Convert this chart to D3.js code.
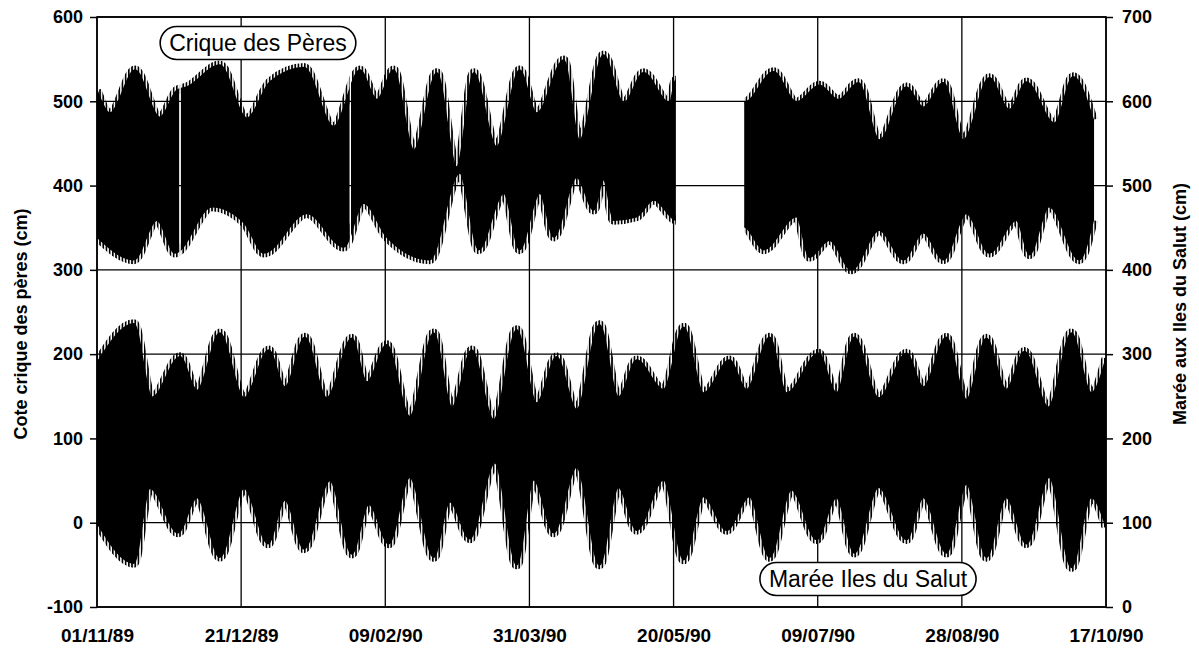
<!DOCTYPE html>
<html>
<head>
<meta charset="utf-8">
<script src="https://cdn.jsdelivr.net/npm/d3@7"></script>
<style>
  html, body { margin: 0; padding: 0; background: #fff; }
  svg { display: block; }
  text { font-family: "Liberation Sans", Arial, Helvetica, sans-serif; fill: #000; }
</style>
</head>
<body>
<svg id="chart" width="1199" height="652"></svg>
<script>
// Date axis: one tick every 50 days from 1 Nov 1989
const dateTicks = ["01/11/89", "21/12/89", "09/02/90", "31/03/90", "20/05/90", "09/07/90", "28/08/90", "17/10/90"];
const leftTicks = [-100, 0, 100, 200, 300, 400, 500, 600];
const rightTicks = [0, 100, 200, 300, 400, 500, 600, 700];

// Crique des Pères water level (cm, left axis): envelope of the tidal
// signal, given as day offsets from 01/11/89 with the extreme value there.
const periHighDay = [0, 4.5, 13.2, 21.8, 27.7, 31.2, 42.6, 52.0, 60.0, 71.8, 82.1, 91.2, 97.1, 102.9, 109.9, 117.9, 124.8, 130.7, 138.6, 146.6, 152.5, 161.9, 167.4, 175.7, 182.7, 189.6, 198.6, 200.7,
                     224.6, 234.7, 242.6, 250.6, 257.2, 264.1, 271.4, 280.8, 286.6, 293.6, 300.5, 309.5, 316.5, 322.4, 332.1, 338.6, 345.6];
const periHigh    = [513, 486, 537, 481, 513, 517, 543, 480, 523, 540, 470, 537, 502, 537, 442, 534, 422, 534, 446, 537, 486, 549, 454, 555, 498, 534, 498, 525,
                     499, 535, 499, 519, 502, 522, 454, 517, 493, 522, 454, 528, 490, 523, 474, 529, 478];
const periLowDay  = [0, 12.8, 20.8, 27.0, 39.9, 51.0, 57.9, 72.8, 85.6, 92.5, 100.5, 115.4, 125.8, 132.4, 141.1, 146.6, 153.6, 158.4, 166.4, 172.3, 175.7, 179.2, 187.2, 193.1, 200.7,
                     224.6, 231.2, 242.6, 247.1, 254.1, 261.7, 271.4, 279.7, 286.6, 293.6, 301.6, 309.5, 318.9, 323.4, 330.3, 340.7, 345.6];
const periLow     = [339, 312, 359, 320, 375, 356, 320, 367, 327, 379, 339, 312, 415, 324, 391, 324, 391, 339, 410, 371, 407, 359, 363, 383, 359,
                     351, 324, 363, 315, 335, 300, 347, 312, 344, 312, 367, 320, 359, 318, 375, 312, 359];
// Periods without records at the Crique des Pères gauge [from, to] (days)
const periGaps = [[28.5, 29.1], [87.6, 88.1], [200.8, 224.5]];

// Tide at Iles du Salut (cm, right axis): same envelope description
const salutHighDay = [0, 12.8, 19.1, 28.8, 34.7, 42.6, 51.0, 59.6, 65.2, 72.1, 79.7, 88.4, 93.6, 100.5, 108.5, 116.8, 123.1, 130.0, 137.6, 145.6, 152.5, 159.4, 166.4, 174.3,
                      180.9, 187.2, 196.5, 203.5, 210.4, 219.4, 225.3, 233.3, 239.2, 250.3, 256.5, 262.7, 271.1, 280.8, 286.6, 294.6, 301.6, 308.5, 315.4, 321.7, 330.0, 338.0, 344.9, 350];
const salutHigh    = [290, 336, 249, 297, 257, 325, 248, 305, 261, 320, 248, 319, 267, 311, 226, 325, 237, 305, 222, 329, 242, 297, 234, 335,
                      249, 293, 258, 332, 254, 293, 258, 320, 254, 301, 254, 320, 248, 301, 261, 320, 246, 319, 258, 303, 237, 325, 254, 295];
const salutLowDay  = [0, 12.8, 18.4, 28.1, 34.7, 42.6, 51.0, 59.3, 65.2, 71.8, 80.8, 88.4, 94.3, 101.2, 108.5, 116.8, 122.4, 129.3, 138.0, 145.6, 151.5, 158.4, 166.4, 174.3,
                      180.9, 187.2, 196.5, 203.5, 210.4, 218.4, 226.3, 233.3, 240.9, 249.6, 256.5, 262.7, 271.1, 280.8, 286.6, 294.6, 301.6, 308.5, 315.4, 322.4, 330.3, 338.0, 344.9, 350];
const salutLow     = [100, 52, 141, 88, 130, 59, 141, 75, 127, 69, 150, 63, 122, 75, 154, 59, 125, 81, 171, 50, 151, 88, 166, 50,
                      142, 91, 151, 56, 131, 91, 131, 59, 139, 80, 130, 64, 142, 80, 130, 64, 146, 59, 130, 75, 154, 47, 130, 95];

const W = 1199, H = 652;
const M = { left: 97, right: 1106, top: 17, bottom: 607 };

const parseDate = d3.timeParse("%d/%m/%y");
const tickDates = dateTicks.map(parseDate);
const t0 = tickDates[0];
const dayToDate = d => new Date(t0.getTime() + d * 864e5);

const x = d3.scaleTime().domain([t0, tickDates[tickDates.length - 1]]).range([M.left, M.right]);
const yL = d3.scaleLinear().domain([-100, 600]).range([M.bottom, M.top]);
const yR = d3.scaleLinear().domain([0, 700]).range([M.bottom, M.top]);

const svg = d3.select("#chart");
svg.append("rect").attr("width", W).attr("height", H).attr("fill", "#fff");

// Grid
const grid = svg.append("g").attr("stroke", "#000").attr("stroke-width", 1.3);
grid.selectAll("line.h").data(leftTicks).join("line")
  .attr("x1", M.left).attr("x2", M.right)
  .attr("y1", d => yL(d)).attr("y2", d => yL(d));
grid.selectAll("line.v").data(tickDates).join("line")
  .attr("x1", d => x(d)).attr("x2", d => x(d))
  .attr("y1", M.top).attr("y2", M.bottom);

// Envelope edges of a tidal record and the band between them,
// built like d3.area: upper edge forward, lower edge backward.
const edge = d3.line().curve(d3.curveMonotoneX);
function envelope(hiDay, hi, loDay, lo, y) {
  const upper = hiDay.map((d, i) => [x(dayToDate(d)), y(hi[i])]);
  const lower = loDay.map((d, i) => [x(dayToDate(d)), y(lo[i])]);
  return {
    upper: edge(upper),
    lower: edge(lower),
    band: edge(upper) + "L" + edge(lower.slice().reverse()).slice(1) + "Z"
  };
}

const defs = svg.append("defs");
// Vertical hatching: the individual tide strokes along the band edges
const hatch = defs.append("pattern").attr("id", "tideHatch")
  .attr("patternUnits", "userSpaceOnUse").attr("width", 3.2).attr("height", 10);
hatch.append("rect").attr("x", 0).attr("y", 0).attr("width", 1.7).attr("height", 10).attr("fill", "#000");

// Plot-area clip, and the same with the gauge gaps removed
defs.append("clipPath").attr("id", "plotClip").append("rect")
  .attr("x", M.left).attr("y", M.top).attr("width", M.right - M.left).attr("height", M.bottom - M.top);
const clip = defs.append("clipPath").attr("id", "periClip");
let from = 0;
const spans = [];
periGaps.forEach(g => { spans.push([from, g[0]]); from = g[1]; });
spans.push([from, 350]);
clip.selectAll("rect").data(spans).join("rect")
  .attr("x", d => x(dayToDate(d[0])))
  .attr("width", d => x(dayToDate(d[1])) - x(dayToDate(d[0])))
  .attr("y", 0).attr("height", H);

function drawBand(env, clipId) {
  const g = svg.append("g").attr("clip-path", `url(#${clipId})`);
  [env.upper, env.lower].forEach(p => g.append("path").attr("d", p)
    .attr("fill", "none").attr("stroke", "url(#tideHatch)").attr("stroke-width", 9));
  g.append("path").attr("d", env.band)
    .attr("fill", "#000").attr("stroke", "#000").attr("stroke-width", 1.5);
}
drawBand(envelope(salutHighDay, salutHigh, salutLowDay, salutLow, yR), "plotClip");
drawBand(envelope(periHighDay, periHigh, periLowDay, periLow, yL), "periClip");

// Frame
svg.append("rect")
  .attr("x", M.left).attr("y", M.top)
  .attr("width", M.right - M.left).attr("height", M.bottom - M.top)
  .attr("fill", "none").attr("stroke", "#000").attr("stroke-width", 1.6);

const plainInt = d => String(Math.round(d));
// Left axis
const axL = svg.append("g").attr("transform", `translate(${M.left},0)`)
  .call(d3.axisLeft(yL).tickValues(leftTicks).tickSize(7).tickPadding(7).tickFormat(plainInt));
// Right axis
const axR = svg.append("g").attr("transform", `translate(${M.right},0)`)
  .call(d3.axisRight(yR).tickValues(rightTicks).tickSize(7).tickPadding(9).tickFormat(plainInt));
// Bottom axis
const axB = svg.append("g").attr("transform", `translate(0,${M.bottom})`)
  .call(d3.axisBottom(x).tickValues(tickDates).tickSize(0).tickPadding(22).tickFormat(d3.timeFormat("%d/%m/%y")));

[axL, axR, axB].forEach(a => {
  a.select(".domain").remove();
  a.selectAll(".tick line").attr("stroke", "#000").attr("stroke-width", 1.5);
  a.selectAll(".tick text").attr("font-family", "Liberation Sans, Arial, sans-serif")
    .attr("font-weight", "bold").attr("font-size", 18).attr("fill", "#000");
});
axB.selectAll(".tick text").attr("font-size", 19);

// Axis titles
svg.append("text")
  .attr("transform", `translate(21,${(M.top + M.bottom) / 2 + 12}) rotate(-90)`)
  .attr("text-anchor", "middle").attr("dominant-baseline", "central")
  .attr("font-weight", "bold").attr("font-size", 18)
  .text("Cote crique des pères (cm)");
svg.append("text")
  .attr("transform", `translate(1180,${(M.top + M.bottom) / 2 - 8}) rotate(-90)`)
  .attr("text-anchor", "middle").attr("dominant-baseline", "central")
  .attr("font-weight", "bold").attr("font-size", 18)
  .text("Marée aux Iles du Salut (cm)");

// Series captions in rounded boxes
function caption(label, cx, cy) {
  const g = svg.append("g");
  const t = g.append("text").attr("x", cx).attr("y", cy)
    .attr("text-anchor", "middle").attr("dominant-baseline", "central")
    .attr("font-size", 23).text(label);
  const w = t.node().getComputedTextLength() + 18;
  const h = 33;
  g.insert("rect", "text")
    .attr("x", cx - w / 2).attr("y", cy - h / 2)
    .attr("width", w).attr("height", h).attr("rx", h / 2).attr("ry", h / 2)
    .attr("fill", "#fff").attr("stroke", "#000").attr("stroke-width", 1.6);
}
caption("Crique des Pères", 258, 43);
caption("Marée Iles du Salut", 868, 579);
</script>
</body>
</html>
